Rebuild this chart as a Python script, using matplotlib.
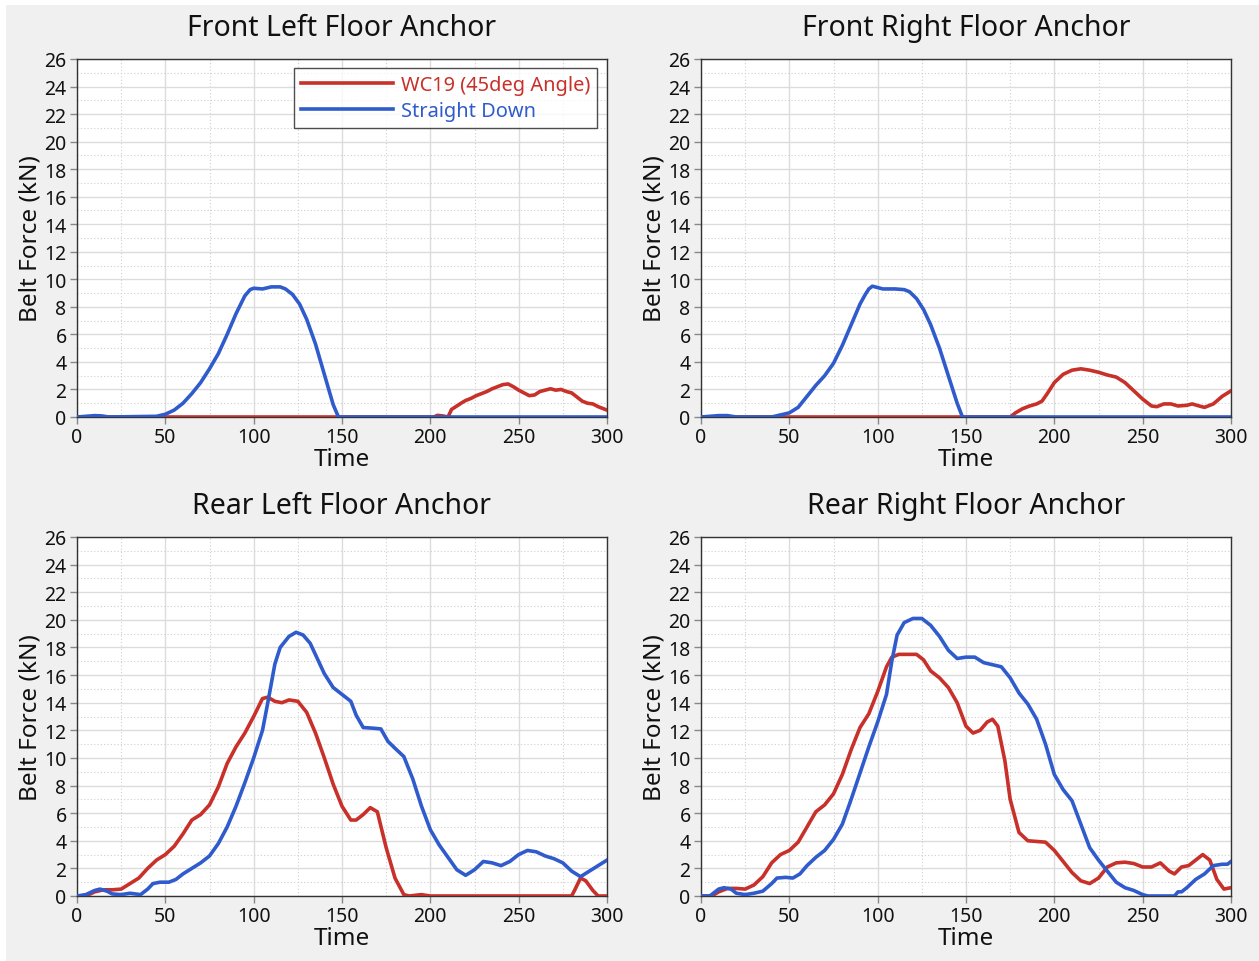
import numpy as np
import matplotlib
matplotlib.use("Agg")

import matplotlib.pyplot as plt
from matplotlib.patches import Rectangle
from matplotlib.ticker import MultipleLocator

plt.rcParams["font.family"] = ["Noto Sans", "DejaVu Sans"]

RED = "#c8302a"
BLUE = "#2f5bcc"

# belt force traces (time, kN) for each floor anchor
fl_sd_t = [0, 5, 10, 14, 18, 45, 50, 55, 60, 65, 70, 75, 80, 85, 90, 95, 98, 100, 105, 110,
           115, 118, 122, 126, 130, 135, 140, 145, 148, 300]
fl_sd_f = [0, 0.05, 0.1, 0.08, 0, 0.05, 0.2, 0.5, 1.0, 1.7, 2.5, 3.5, 4.6, 6.0, 7.5, 8.8,
           9.25, 9.35, 9.3, 9.45, 9.45, 9.3, 8.9, 8.2, 7.1, 5.3, 3.1, 0.9, 0, 0]
fl_wc_t = [0, 202, 204, 207, 210, 212, 215, 218, 220, 223, 226, 229, 232, 235, 238, 241,
           244, 247, 250, 253, 256, 259, 262, 265, 268, 271, 274, 277, 280, 283, 286,
           289, 292, 295, 298, 300]
fl_wc_f = [0, 0, 0.12, 0.08, 0.0, 0.55, 0.8, 1.05, 1.2, 1.35, 1.55, 1.7, 1.85, 2.05, 2.2,
           2.35, 2.4, 2.2, 1.95, 1.75, 1.55, 1.6, 1.85, 1.95, 2.05, 1.95, 2.0, 1.85,
           1.75, 1.45, 1.15, 1.0, 0.95, 0.75, 0.6, 0.5]

fr_sd_t = [0, 5, 10, 15, 20, 40, 45, 50, 55, 60, 65, 70, 75, 80, 85, 90, 93, 95, 97, 100,
           103, 110, 115, 118, 122, 126, 130, 135, 140, 145, 148, 300]
fr_sd_f = [0, 0.05, 0.1, 0.1, 0, 0, 0.15, 0.3, 0.7, 1.5, 2.3, 3.0, 3.9, 5.2, 6.7, 8.2,
           8.9, 9.3, 9.5, 9.4, 9.3, 9.3, 9.25, 9.1, 8.6, 7.8, 6.7, 5.0, 3.0, 1.0, 0, 0]
fr_wc_t = [0, 175, 178, 182, 186, 190, 193, 196, 200, 205, 210, 215, 220, 225, 230, 235,
           240, 245, 250, 255, 258, 262, 266, 270, 275, 278, 282, 285, 290, 295, 300]
fr_wc_f = [0, 0, 0.3, 0.6, 0.8, 0.95, 1.15, 1.7, 2.5, 3.1, 3.4, 3.5, 3.4, 3.25, 3.05, 2.9,
           2.5, 1.9, 1.3, 0.8, 0.75, 0.95, 0.95, 0.8, 0.85, 0.95, 0.8, 0.7, 0.95, 1.5, 1.9]

rl_sd_t = [0, 5, 10, 13, 17, 20, 25, 30, 33, 36, 40, 43, 47, 52, 56, 60, 65, 70, 75, 80,
           85, 90, 95, 100, 105, 108, 112, 115, 120, 124, 128, 132, 136, 140, 145, 150,
           155, 158, 162, 168, 172, 176, 180, 185, 190, 195, 200, 205, 210, 215, 220,
           225, 230, 235, 240, 245, 250, 255, 260, 265, 270, 275, 280, 285, 290, 295, 300]
rl_sd_f = [0, 0.1, 0.4, 0.5, 0.35, 0.15, 0.1, 0.2, 0.15, 0.1, 0.5, 0.9, 1.0, 1.0, 1.2,
           1.6, 2.0, 2.4, 2.9, 3.8, 5.0, 6.5, 8.2, 10.0, 12.0, 14.0, 16.8, 18.0, 18.8,
           19.1, 18.9, 18.3, 17.2, 16.1, 15.1, 14.6, 14.1, 13.1, 12.2, 12.15, 12.1, 11.2,
           10.7, 10.1, 8.5, 6.5, 4.8, 3.7, 2.8, 1.9, 1.5, 1.9, 2.5, 2.4, 2.2, 2.5, 3.0,
           3.3, 3.2, 2.9, 2.7, 2.4, 1.8, 1.4, 1.8, 2.2, 2.6]
rl_wc_t = [0, 5, 10, 15, 20, 25, 30, 35, 40, 45, 50, 55, 60, 65, 70, 75, 80, 85, 90, 95,
           100, 105, 108, 112, 116, 120, 125, 130, 135, 140, 145, 150, 155, 158, 162,
           166, 170, 175, 180, 185, 188, 195, 200, 280, 282, 285, 288, 292, 295, 300]
rl_wc_f = [0, 0, 0.3, 0.45, 0.45, 0.5, 0.9, 1.3, 2.0, 2.6, 3.0, 3.6, 4.5, 5.5, 5.9, 6.6,
           7.9, 9.6, 10.8, 11.8, 13.0, 14.3, 14.4, 14.1, 14.0, 14.2, 14.1, 13.3, 11.8,
           10.0, 8.1, 6.5, 5.5, 5.5, 5.9, 6.4, 6.1, 3.5, 1.3, 0.1, 0, 0.1, 0, 0, 0.5,
           1.3, 1.1, 0.4, 0, 0]

rr_sd_t = [0, 5, 10, 13, 17, 20, 25, 30, 35, 40, 43, 48, 52, 56, 60, 65, 70, 75, 80, 85,
           90, 95, 100, 105, 108, 111, 115, 120, 125, 130, 135, 140, 145, 150, 155, 160,
           165, 170, 175, 180, 185, 190, 195, 200, 205, 210, 215, 220, 225, 230, 235,
           240, 245, 250, 253, 268, 270, 272, 275, 280, 285, 290, 295, 298, 300]
rr_sd_f = [0, 0, 0.5, 0.6, 0.5, 0.2, 0.1, 0.2, 0.35, 0.9, 1.3, 1.35, 1.3, 1.6, 2.2, 2.8,
           3.3, 4.1, 5.2, 7.0, 8.9, 10.8, 12.6, 14.6, 17.0, 18.9, 19.8, 20.1, 20.1, 19.6,
           18.8, 17.8, 17.2, 17.3, 17.3, 16.9, 16.75, 16.6, 15.8, 14.7, 13.9, 12.8, 11.0,
           8.8, 7.7, 6.9, 5.2, 3.5, 2.6, 1.8, 1.0, 0.6, 0.4, 0.1, 0, 0, 0.3, 0.3, 0.6,
           1.2, 1.6, 2.2, 2.3, 2.3, 2.5]
rr_wc_t = [0, 6, 10, 15, 20, 25, 30, 35, 40, 45, 50, 55, 60, 65, 70, 75, 80, 85, 90, 95,
           100, 105, 108, 112, 118, 122, 126, 130, 135, 140, 145, 150, 154, 158, 162, 165,
           168, 172, 175, 180, 185, 190, 195, 200, 205, 210, 215, 220, 225, 230, 235,
           240, 245, 250, 255, 260, 265, 268, 272, 276, 280, 284, 288, 292, 296, 300]
rr_wc_f = [0, 0, 0.3, 0.55, 0.55, 0.5, 0.8, 1.4, 2.4, 3.0, 3.3, 3.9, 5.0, 6.1, 6.6, 7.4,
           8.8, 10.6, 12.2, 13.2, 14.8, 16.6, 17.3, 17.5, 17.5, 17.5, 17.1, 16.3, 15.8,
           15.1, 14.0, 12.3, 11.8, 12.0, 12.6, 12.8, 12.3, 9.8, 7.0, 4.6, 4.0, 3.95, 3.9,
           3.3, 2.5, 1.7, 1.1, 0.9, 1.3, 2.1, 2.4, 2.45, 2.35, 2.1, 2.1, 2.4, 1.8, 1.6,
           2.1, 2.2, 2.6, 3.0, 2.6, 1.2, 0.5, 0.6]

panels = [
    ("Front Left Floor Anchor", fl_wc_t, fl_wc_f, fl_sd_t, fl_sd_f),
    ("Front Right Floor Anchor", fr_wc_t, fr_wc_f, fr_sd_t, fr_sd_f),
    ("Rear Left Floor Anchor", rl_wc_t, rl_wc_f, rl_sd_t, rl_sd_f),
    ("Rear Right Floor Anchor", rr_wc_t, rr_wc_f, rr_sd_t, rr_sd_f),
]

W, H = 1259, 962
fig = plt.figure(figsize=(W / 100, H / 100), dpi=100, facecolor="white")
fig.patches.append(Rectangle((6 / W, 0), 1, 1 - 6 / H, transform=fig.transFigure,
                             facecolor="#f0f0f0", edgecolor="none", zorder=-10))

# axes boxes in pixels: left, top, right, bottom
boxes = [(77, 60, 607, 418), (701, 60, 1231, 418),
         (77, 538, 607, 897), (701, 538, 1231, 897)]

for (title, wc_t, wc_f, sd_t, sd_f), (l, t, r, b) in zip(panels, boxes):
    ax = fig.add_axes([l / W, 1 - b / H, (r - l) / W, (b - t) / H])
    ax.plot(wc_t, wc_f, color=RED, lw=2.6, label="WC19 (45deg Angle)", zorder=3,
            solid_joinstyle="round")
    ax.plot(sd_t, sd_f, color=BLUE, lw=2.6, label="Straight Down", zorder=3,
            solid_joinstyle="round")

    ax.set_xlim(0, 300)
    ax.set_ylim(0, 26)
    ax.xaxis.set_major_locator(MultipleLocator(50))
    ax.xaxis.set_minor_locator(MultipleLocator(25))
    ax.yaxis.set_major_locator(MultipleLocator(2))
    ax.yaxis.set_minor_locator(MultipleLocator(1))
    ax.grid(True, which="major", color="#dcdcdc", lw=1.0)
    ax.grid(True, which="minor", color="#cfcfcf", lw=0.8, ls=(0, (1, 2)))
    ax.set_axisbelow(True)
    ax.tick_params(which="major", length=5, width=1, color="#888888",
                   labelsize=14, pad=2.5, labelcolor="#111111")
    ax.tick_params(which="minor", length=0)
    for s in ax.spines.values():
        s.set_color("#333333")
        s.set_linewidth(1.0)

    ax.set_title(title, fontsize=20.5, pad=17, color="#111111")
    ax.set_xlabel("Time", fontsize=17.5, labelpad=0, color="#111111")
    ax.set_ylabel("Belt Force (kN)", fontsize=17.5, labelpad=1, color="#111111")

    if title.startswith("Front Left"):
        leg = ax.legend(loc="upper right", bbox_to_anchor=(0.981, 0.975), fontsize=14.4,
                        handlelength=4.6, frameon=True, fancybox=False,
                        borderpad=0.35, labelspacing=0.3, handletextpad=0.4,
                        borderaxespad=0)
        leg.get_frame().set_edgecolor("#222222")
        leg.get_frame().set_linewidth(1.0)
        for txt, line in zip(leg.get_texts(), leg.get_lines()):
            txt.set_color(line.get_color())

fig.savefig("out.png", dpi=100, facecolor=fig.get_facecolor())
